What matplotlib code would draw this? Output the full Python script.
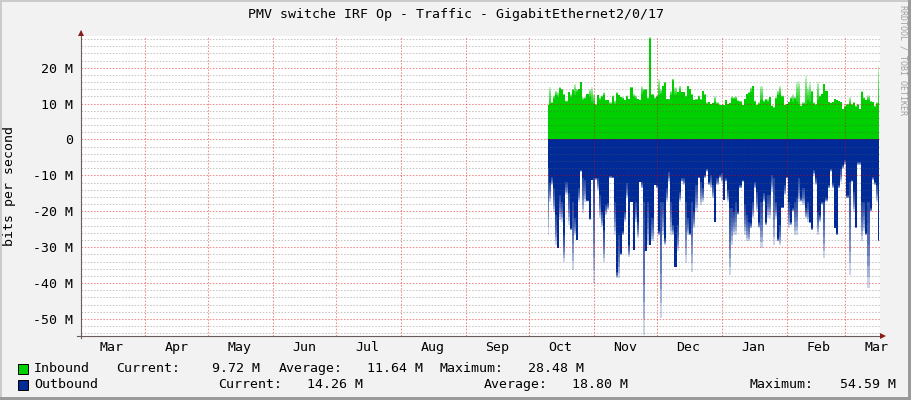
"""
plot.py - rrdtool style traffic graph (Cacti look) redrawn with matplotlib.
"""

import numpy as np
import pandas as pd
import matplotlib
matplotlib.use("Agg")
import matplotlib.pyplot as plt
import matplotlib.dates as mdates
from matplotlib.ticker import FixedLocator, MultipleLocator, FuncFormatter, NullFormatter
from matplotlib.patches import Rectangle
from matplotlib.lines import Line2D

W, H = 911, 400

# daily samples (Mbit/s), starting first_day
# *_solid = level reached most of the day, *_peak = short spike on top of it
in_solid = [9.5, 9.9, 10.1, 11.3, 12.3, 11.8, 14.1, 13.8, 12.3, 10.4,
            13.2, 11.8, 13.6, 12.3, 13.2, 14.1, 16.0, 10.9, 11.3, 12.7,
            11.8, 10.4, 9.9, 9.5, 12.3, 10.9, 11.8, 12.3, 10.9, 10.9,
            9.9, 11.8, 9.9, 12.7, 12.3, 11.8, 11.3, 10.9, 11.8, 11.3,
            14.4, 11.8, 11.3, 11.3, 10.9, 12.7, 13.6, 13.8, 11.3, 28.0,
            12.3, 11.3, 11.8, 12.3, 12.7, 15.0, 15.7, 11.3, 11.1, 12.3,
            16.4, 12.3, 13.2, 13.6, 13.2, 13.2, 11.8, 15.0, 14.1, 12.3,
            10.9, 11.0, 11.8, 10.9, 13.6, 12.3, 9.9, 10.4, 9.9, 10.1,
            10.4, 9.9, 9.5, 9.5, 9.7, 10.9, 9.9, 10.1, 11.3, 11.3,
            11.3, 10.7, 10.4, 9.7, 11.3, 12.7, 12.9, 13.2, 14.8, 10.4,
            9.7, 9.9, 10.9, 10.4, 11.0, 10.4, 11.8, 9.2, 8.8, 11.3,
            12.3, 12.7, 11.8, 9.5, 9.9, 10.4, 11.3, 10.4, 11.3, 10.7,
            9.9, 9.2, 9.9, 9.9, 10.9, 10.4, 13.2, 9.9, 9.5, 10.9,
            11.8, 12.7, 15.5, 13.6, 10.4, 10.1, 10.4, 11.3, 11.0, 10.7,
            10.4, 8.5, 9.0, 9.5, 9.9, 9.5, 10.1, 9.0, 9.5, 8.5,
            13.2, 11.3, 10.9, 11.0, 10.4, 10.4, 9.0, 9.9, 10.1]
in_peak = [9.5, 14.6, 10.4, 12.3, 13.6, 13.2, 14.6, 14.1, 12.7, 10.9,
           13.2, 12.7, 14.1, 15.5, 14.1, 14.1, 16.0, 11.8, 11.8, 12.7,
           14.1, 14.6, 12.7, 9.9, 12.3, 11.8, 12.3, 13.2, 10.9, 10.9,
           10.4, 12.3, 10.9, 13.2, 12.3, 11.8, 11.8, 10.9, 12.3, 11.3,
           14.6, 12.7, 12.3, 11.3, 10.9, 15.0, 14.1, 14.1, 11.8, 28.48,
           12.7, 11.8, 12.3, 16.9, 14.1, 15.0, 16.0, 11.3, 11.3, 13.6,
           16.9, 14.6, 13.2, 15.0, 13.2, 13.2, 12.3, 15.0, 14.1, 12.7,
           10.9, 11.3, 12.3, 11.3, 13.6, 12.7, 10.4, 10.4, 9.9, 10.1,
           12.1, 10.4, 9.5, 9.5, 9.7, 10.9, 9.9, 10.1, 12.0, 11.8,
           12.0, 10.9, 10.7, 9.7, 11.3, 12.7, 13.2, 14.6, 14.8, 10.9,
           9.7, 10.4, 15.0, 10.9, 11.3, 11.3, 11.8, 9.5, 9.0, 11.8,
           13.6, 15.0, 12.3, 9.5, 9.9, 10.4, 11.8, 12.7, 11.8, 16.0,
           16.4, 9.5, 10.4, 17.8, 14.6, 16.0, 13.6, 10.4, 9.9, 16.0,
           12.3, 12.7, 15.5, 13.6, 10.4, 10.1, 10.4, 11.3, 11.0, 10.7,
           10.4, 8.5, 9.5, 9.9, 11.8, 9.9, 10.4, 9.5, 9.9, 8.5,
           13.4, 11.8, 11.0, 12.3, 10.7, 10.4, 9.5, 10.4, 20.5]
out_solid = [7.9, 12.2, 10.4, 13.6, 21.0, 30.3, 15.5, 17.3, 26.6, 11.8,
             15.0, 24.7, 17.3, 21.9, 28.0, 13.6, 8.5, 10.8, 11.3, 16.9,
             21.9, 11.3, 10.8, 10.6, 10.8, 15.5, 20.1, 25.2, 18.2, 17.8,
             10.1, 10.4, 17.3, 36.8, 26.6, 31.7, 25.6, 20.1, 12.2, 29.4,
             17.3, 30.7, 17.3, 22.9, 11.8, 11.8, 17.3, 31.2, 17.3, 29.4,
             21.9, 12.7, 12.7, 25.6, 17.3, 17.3, 27.5, 13.6, 9.0, 17.3,
             23.8, 35.4, 23.8, 14.5, 10.8, 10.8, 17.3, 21.9, 26.1, 17.3,
             20.1, 12.7, 10.4, 11.8, 13.6, 9.9, 8.1, 11.8, 9.9, 12.7,
             22.9, 10.8, 9.9, 9.4, 16.9, 10.8, 14.1, 19.2, 19.2, 20.1,
             17.3, 20.1, 12.7, 11.3, 18.2, 21.0, 22.9, 23.3, 17.3, 11.8,
             14.5, 22.9, 17.3, 15.0, 22.9, 15.5, 15.5, 9.9, 10.8, 17.3,
             27.5, 23.8, 18.7, 12.7, 10.4, 17.3, 22.9, 19.2, 17.3, 16.4,
             10.8, 16.4, 13.6, 19.2, 17.3, 22.9, 24.7, 8.5, 10.8, 20.1,
             21.0, 17.3, 17.3, 16.4, 12.7, 8.1, 12.2, 24.7, 26.1, 12.7,
             8.1, 7.1, 5.7, 15.5, 11.8, 11.3, 14.5, 24.3, 6.2, 6.2,
             17.3, 17.3, 26.1, 17.3, 19.2, 10.4, 11.8, 12.7, 28.0]
out_peak = [26.6, 17.3, 12.7, 20.1, 29.4, 30.3, 22.4, 22.9, 34.0, 15.5,
            23.8, 25.2, 36.3, 26.6, 28.0, 17.3, 9.0, 20.6, 17.3, 17.3,
            22.4, 11.3, 40.0, 11.3, 14.1, 21.9, 24.3, 34.0, 21.0, 19.6,
            10.8, 10.8, 26.6, 38.6, 38.6, 32.1, 26.6, 22.9, 16.4, 32.6,
            17.3, 30.7, 22.9, 27.5, 11.8, 13.6, 54.59, 31.2, 29.4, 29.4,
            28.4, 12.7, 13.6, 26.6, 49.7, 26.6, 29.4, 17.3, 11.8, 26.6,
            26.6, 35.4, 31.2, 17.3, 11.8, 12.7, 34.4, 26.6, 26.6, 36.8,
            24.7, 20.1, 10.8, 18.2, 17.3, 10.8, 9.0, 12.7, 13.6, 16.4,
            22.9, 12.7, 10.8, 11.8, 16.9, 11.8, 17.3, 37.7, 29.4, 26.6,
            26.6, 21.0, 13.6, 11.8, 26.6, 28.4, 28.4, 24.7, 21.9, 13.6,
            20.1, 24.7, 30.3, 17.3, 23.8, 21.9, 21.9, 14.5, 29.4, 21.9,
            28.4, 29.4, 19.2, 15.5, 10.8, 24.7, 23.8, 20.1, 26.6, 26.6,
            17.3, 17.3, 18.2, 21.9, 22.9, 23.3, 25.2, 9.9, 12.7, 26.6,
            22.9, 18.2, 33.1, 17.3, 13.6, 9.0, 13.6, 24.7, 26.6, 13.6,
            11.8, 8.1, 7.1, 16.4, 37.7, 11.8, 20.1, 24.7, 7.1, 7.1,
            28.4, 25.6, 26.6, 41.4, 20.1, 11.3, 12.7, 17.3, 28.4]

first_day = "2022-10-10"
x_start, x_end = "2022-03-01 12:00", "2023-03-17 12:00"
y_ticks = [20, 10, 0, -10, -20, -30, -40, -50]
y_range = (-54.6, 28.83)

in_stats = [9.72, 11.64, 28.48]     # current, average, maximum
out_stats = [14.26, 18.80, 54.59]

title = "PMV switche IRF Op - Traffic - GigabitEthernet2/0/17"

GREEN = "#00CF00"
BLUE = "#002A97"
BACK = "#f2f2f2"
FS = 9.5

plt.rcParams["font.family"] = ["DejaVu Sans Mono"]

fig = plt.figure(figsize=(W / 100, H / 100), dpi=100, facecolor=BACK)


def fx(x):
    return x / W


def fy(y):
    return 1 - y / H


ax = fig.add_axes([fx(81), fy(335.5), 799 / W, 299.5 / H])
ax.set_facecolor("white")

t = mdates.date2num(pd.date_range(first_day, periods=len(in_solid), freq="D"))


def draw_area(sign, solid, peak, color):
    solid = sign * np.asarray(solid)
    peak = sign * np.asarray(peak)
    ax.fill_between(t, 0, solid, step="mid", color=color, lw=0, zorder=1)
    # faded tips: stacked translucent layers toward the peak
    for k in range(1, 9):
        ax.fill_between(t, solid, solid + (peak - solid) * k / 8, step="mid",
                        color=color, alpha=0.2, lw=0, zorder=1)


draw_area(1, in_solid, in_peak, GREEN)
draw_area(-1, out_solid, out_peak, BLUE)

ax.set_xlim(mdates.datestr2num(x_start), mdates.datestr2num(x_end))
ax.set_ylim(*y_range)

ax.yaxis.set_major_locator(FixedLocator(y_ticks))
ax.yaxis.set_minor_locator(MultipleLocator(2))
ax.yaxis.set_major_formatter(FuncFormatter(lambda v, p: "0" if v == 0 else f"{int(v)} M"))
ax.xaxis.set_major_locator(mdates.MonthLocator())
ax.xaxis.set_major_formatter(NullFormatter())
ax.xaxis.set_minor_locator(mdates.MonthLocator(bymonthday=16))
ax.xaxis.set_minor_formatter(mdates.DateFormatter("%b"))

ax.tick_params(axis="both", which="both", length=0, labelsize=FS, labelcolor="black")
ax.tick_params(axis="y", pad=6)
ax.tick_params(axis="x", which="minor", pad=4)

# grid on top of the data, like rrdtool
ax.set_axisbelow(False)
dots = (0, (1.5, 1.5))
ax.grid(which="major", axis="both", color="#e00000", alpha=0.45, ls=dots, lw=0.75)
ax.grid(which="minor", axis="y", color="#606060", alpha=0.35, ls=dots, lw=0.75)
ax.grid(which="minor", axis="x", visible=False)

for s in ax.spines.values():
    s.set_visible(False)

# axes with arrows
AXIS = "#6a5a5a"
fig.add_artist(Line2D([fx(81), fx(81)], [fy(338), fy(31)], color=AXIS, lw=0.8))
fig.add_artist(Line2D([fx(77), fx(882)], [fy(335.5), fy(335.5)], color=AXIS, lw=0.8))
fig.add_artist(Line2D([fx(81)], [fy(32.5)], marker="^", ms=4.5, color="#8b1a1a", mew=0))
fig.add_artist(Line2D([fx(882.5)], [fy(335.5)], marker=">", ms=4.5, color="#8b1a1a", mew=0))

# frame shading
fig.add_artist(Rectangle((0, 0), fx(2), 1, transform=fig.transFigure, color="#cbcbcb", lw=0))
fig.add_artist(Rectangle((0, fy(2)), 1, 2 / H, transform=fig.transFigure, color="#cbcbcb", lw=0))
fig.add_artist(Rectangle((fx(908), 0), 3 / W, 1, transform=fig.transFigure, color="#9a9a9a", lw=0))
fig.add_artist(Rectangle((0, 0), 1, 3 / H, transform=fig.transFigure, color="#9a9a9a", lw=0))

fig.text(fx(455.5), fy(14.3), title, ha="center", va="center", fontsize=FS)
fig.text(fx(10), fy(185.5), "bits per second", rotation=90, ha="center", va="center", fontsize=FS)
fig.text(fx(903), fy(60), "RRDTOOL / TOBI OETIKER", rotation=270, ha="center", va="center",
         fontsize=6, color="#a0a0a0")

# legend
fig.add_artist(Rectangle((fx(17.5), fy(373.5)), 10 / W, 10 / H, transform=fig.transFigure,
                         facecolor=GREEN, edgecolor="black", lw=0.7))
fig.add_artist(Rectangle((fx(17.5), fy(389.5)), 10 / W, 10 / H, transform=fig.transFigure,
                         facecolor=BLUE, edgecolor="black", lw=0.7))

row1, row2 = fy(368.5), fy(384.5)
fig.text(fx(34), row1, "Inbound", va="center", fontsize=FS)
for lab_x, lab, num_x, val in zip([116, 279, 440], ["Current:", "Average:", "Maximum:"],
                                  [260, 423, 584], in_stats):
    fig.text(fx(lab_x), row1, lab, va="center", fontsize=FS)
    fig.text(fx(num_x), row1, f"{val:.2f} M", ha="right", va="center", fontsize=FS)

fig.text(fx(34), row2, "Outbound", va="center", fontsize=FS)
for lab_x, lab, num_x, val in zip([218, 484, 750], ["Current:", "Average:", "Maximum:"],
                                  [363, 628, 896], out_stats):
    fig.text(fx(lab_x), row2, lab, va="center", fontsize=FS)
    fig.text(fx(num_x), row2, f"{val:.2f} M", ha="right", va="center", fontsize=FS)

fig.savefig("out.png", dpi=100, facecolor=fig.get_facecolor())
